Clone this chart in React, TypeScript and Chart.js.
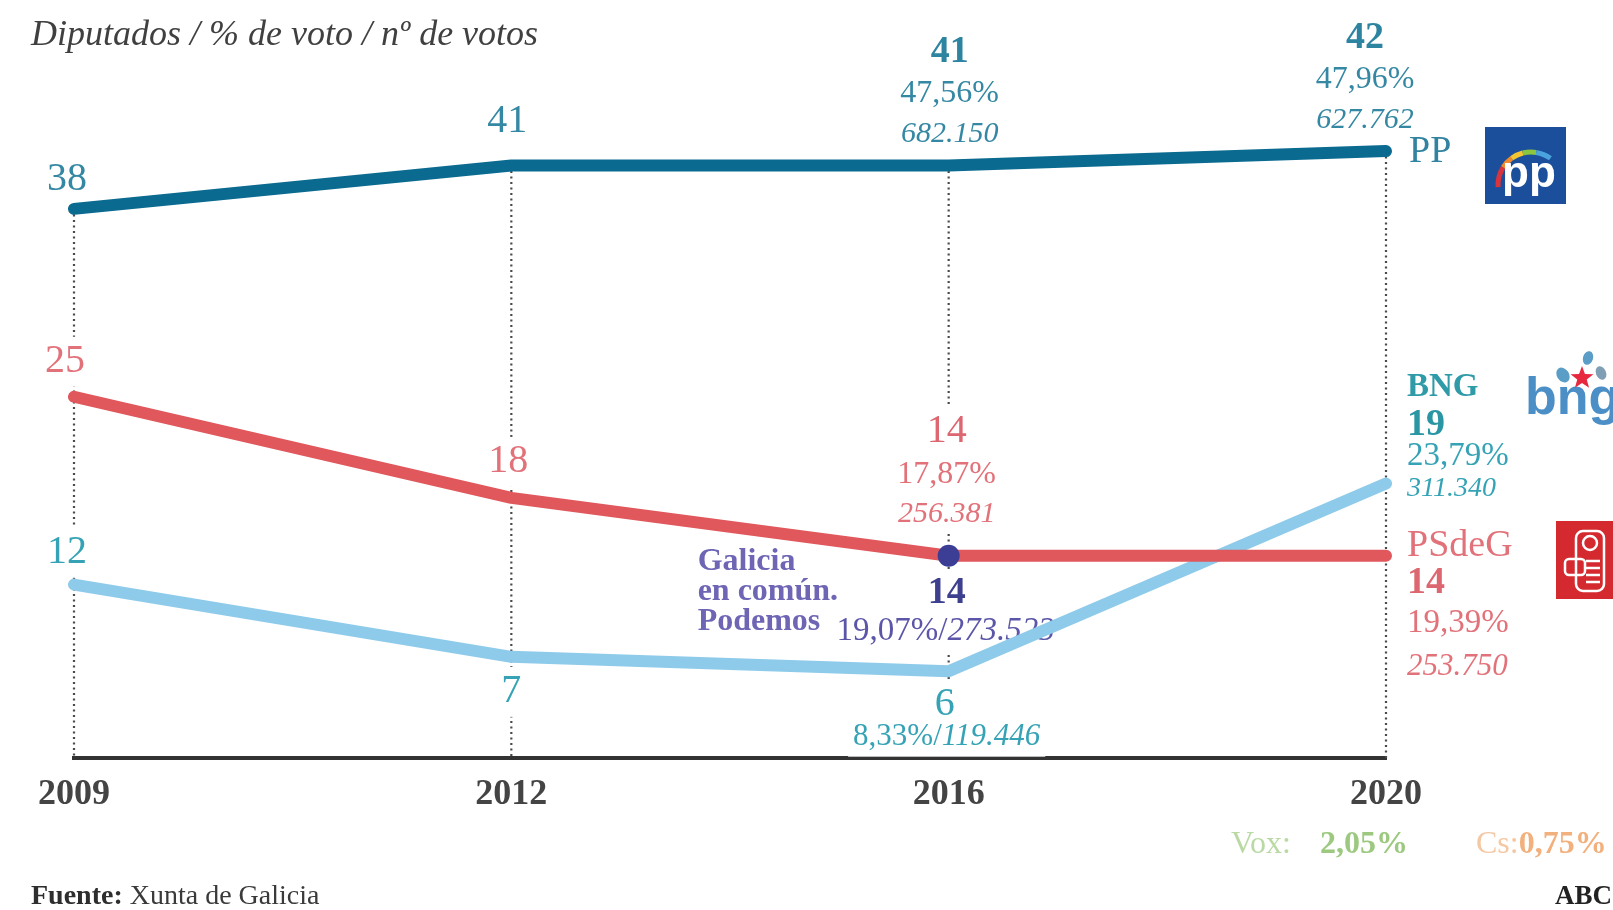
import { useEffect, useRef } from 'react';
import { Chart, registerables } from 'chart.js';

Chart.register(...registerables);

// ---------- data ----------
const years = ['2009', '2012', '2016', '2020'];
const ppSeats = [38, 41, 41, 42];
const psdegSeats = [25, 18, 14, 14];
const bngSeats = [12, 7, 6, 19];
const gecSeats: (number | null)[] = [null, null, 14, null];

const ppPct = ['', '', '47,56%', '47,96%'];
const ppVotes = ['', '', '682.150', '627.762'];
const psdegPct = ['', '', '17,87%', '19,39%'];
const psdegVotes = ['', '', '256.381', '253.750'];
const bngPct = ['', '', '8,33%', '23,79%'];
const bngVotes = ['', '', '119.446', '311.340'];
const gecPct = ['', '', '19,07%', ''];
const gecVotes = ['', '', '273.523', ''];

const partyNames = ['PP', 'PSdeG', 'BNG'];
const gecName = ['Galicia', 'en común.', 'Podemos'];
const otherParties = ['Vox:', 'Cs:'];
const otherPct = ['2,05%', '0,75%'];

const subtitle = 'Diputados / % de voto / nº de votos';
const sourceLabel = 'Fuente:';
const sourceText = ' Xunta de Galicia';
const brand = 'ABC';

// ---------- styles ----------
const SERIF = '"Liberation Serif", serif';
const SANS = '"Liberation Sans", Arial, sans-serif';
const f = (size: number, weight = 'normal', style = 'normal', fam = SERIF) => `${style} ${weight} ${size}px ${fam}`;

const PP_LINE = '#0b6a8f';
const RED_LINE = '#e0575c';
const BNG_LINE = '#8ecbea';
const GEC_DOT = '#3b3e94';
const PP_TXT = '#3588a3';
const RED_TXT = '#e2727a';
const BNG_TXT = '#35a3b5';
const GEC_TXT = '#6e66b5';

type Seg = { t: string; font: string; color: string };

function drawSegs(
  ctx: CanvasRenderingContext2D,
  segs: Seg[],
  x: number,
  y: number,
  align: 'left' | 'center' | 'right',
  size: number,
  bg = false
) {
  let total = 0;
  const widths = segs.map((s) => {
    ctx.font = s.font;
    const w = ctx.measureText(s.t).width;
    total += w;
    return w;
  });
  let sx = align === 'left' ? x : align === 'center' ? x - total / 2 : x - total;
  if (bg) {
    ctx.fillStyle = '#ffffff';
    const h = size * 1.25;
    ctx.fillRect(sx - 5, y - h / 2, total + 10, h);
  }
  ctx.textAlign = 'left';
  ctx.textBaseline = 'middle';
  segs.forEach((s, i) => {
    ctx.font = s.font;
    ctx.fillStyle = s.color;
    ctx.fillText(s.t, sx, y);
    sx += widths[i];
  });
}

function txt(
  ctx: CanvasRenderingContext2D,
  t: string,
  x: number,
  y: number,
  size: number,
  color: string,
  align: 'left' | 'center' | 'right' = 'center',
  weight = 'normal',
  style = 'normal',
  bg = false
) {
  drawSegs(ctx, [{ t, font: f(size, weight, style), color }], x, y, align, size, bg);
}

const annotations = {
  id: 'annotations',
  beforeDatasetsDraw(chart: any) {
    const { ctx, scales, chartArea } = chart;
    const xs = scales.x;
    const ys = scales.y;
    const X = (i: number) => xs.getPixelForValue(i);
    const Y = (v: number) => ys.getPixelForValue(v);
    ctx.save();

    // dotted guide lines from the top series down to the axis
    ctx.strokeStyle = '#4a4a4a';
    ctx.lineWidth = 2.2;
    ctx.setLineDash([2, 3.5]);
    years.forEach((_, i) => {
      const top = Math.max(ppSeats[i], psdegSeats[i], bngSeats[i]);
      ctx.beginPath();
      ctx.moveTo(X(i), Y(top));
      ctx.lineTo(X(i), chartArea.bottom);
      ctx.stroke();
    });
    ctx.setLineDash([]);

    // ---- PP labels ----
    for (let i = 0; i < years.length; i++) {
      const px = X(i);
      const py = Y(ppSeats[i]);
      if (i === 0) txt(ctx, String(ppSeats[i]), px - 7, py - 29, 40, PP_TXT);
      else if (i === 1) txt(ctx, String(ppSeats[i]), px - 4, py - 44, 40, PP_TXT);
      else {
        const dx = i === 2 ? 1 : -21;
        txt(ctx, String(ppSeats[i]), px + dx, py - 113, 38, '#2c84a0', 'center', 'bold', 'normal', true);
        txt(ctx, ppPct[i], px + dx, py - 72, 32, PP_TXT, 'center', 'normal', 'normal', true);
        txt(ctx, ppVotes[i], px + dx, py - 31, 30, PP_TXT, 'center', 'normal', 'italic', true);
      }
    }
    const pp3x = X(3);
    const pp3y = Y(ppSeats[3]);
    txt(ctx, partyNames[0], pp3x + 23, pp3y + 1, 38, '#3183a0', 'left');

    // ---- PSdeG labels ----
    for (let i = 0; i < years.length; i++) {
      const px = X(i);
      const py = Y(psdegSeats[i]);
      if (i === 0) txt(ctx, String(psdegSeats[i]), px - 9, py - 35, 40, RED_TXT, 'center', 'normal', 'normal', true);
      else if (i === 1) txt(ctx, String(psdegSeats[i]), px - 3, py - 36, 40, RED_TXT, 'center', 'normal', 'normal', true);
      else if (i === 2) {
        txt(ctx, String(psdegSeats[i]), px - 2, py - 124, 40, '#dd6770', 'center', 'normal', 'normal', true);
        txt(ctx, psdegPct[i], px - 2, py - 81, 32, RED_TXT, 'center', 'normal', 'normal', true);
        txt(ctx, psdegVotes[i], px - 2, py - 42, 30, RED_TXT, 'center', 'normal', 'italic', true);
      } else {
        const lx = px + 21;
        txt(ctx, partyNames[1], lx, py - 10, 38, RED_TXT, 'left');
        txt(ctx, String(psdegSeats[i]), lx, py + 27, 38, '#dd6770', 'left', 'bold');
        txt(ctx, psdegPct[i], lx, py + 68, 33, RED_TXT, 'left');
        txt(ctx, psdegVotes[i], lx, py + 111, 31, RED_TXT, 'left', 'normal', 'italic');
      }
    }

    // ---- BNG labels ----
    for (let i = 0; i < years.length; i++) {
      const px = X(i);
      const py = Y(bngSeats[i]);
      if (i === 0) txt(ctx, String(bngSeats[i]), px - 7, py - 32, 40, BNG_TXT, 'center', 'normal', 'normal', true);
      else if (i === 1) txt(ctx, String(bngSeats[i]), px, py + 35, 40, BNG_TXT, 'center', 'normal', 'normal', true);
      else if (i === 2) {
        txt(ctx, String(bngSeats[i]), px - 4, py + 33, 40, BNG_TXT, 'center', 'normal', 'normal', true);
        drawSegs(
          ctx,
          [
            { t: bngPct[i] + '/', font: f(31), color: BNG_TXT },
            { t: bngVotes[i], font: f(31, 'normal', 'italic'), color: BNG_TXT },
          ],
          px - 2,
          py + 66,
          'center',
          31,
          true
        );
      } else {
        const lx = px + 21;
        txt(ctx, partyNames[2], lx, py - 96, 33, '#2f9aa8', 'left', 'bold');
        txt(ctx, String(bngSeats[i]), lx, py - 58, 38, '#2a95a3', 'left', 'bold');
        txt(ctx, bngPct[i], lx, py - 27, 33, BNG_TXT, 'left');
        txt(ctx, bngVotes[i], lx, py + 5, 28, BNG_TXT, 'left', 'normal', 'italic');
      }
    }

    // ---- Galicia en común labels ----
    {
      const i = 2;
      const px = X(i);
      const py = Y(gecSeats[i] as number);
      gecName.forEach((n, k) => txt(ctx, n, px - 251, py + 6 + k * 30, 32, GEC_TXT, 'left', 'bold'));
      txt(ctx, String(gecSeats[i]), px - 2, py + 37, 38, '#3d3f8f', 'center', 'bold', 'normal', true);
      drawSegs(
        ctx,
        [
          { t: gecPct[i] + '/', font: f(33), color: '#5b56a8' },
          { t: gecVotes[i], font: f(33, 'normal', 'italic'), color: '#5b56a8' },
        ],
        px - 3,
        py + 76,
        'center',
        33,
        true
      );
    }

    // ---- subtitle, other parties, source ----
    txt(ctx, subtitle, 31, 36, 36, '#404040', 'left', 'normal', 'italic');
    txt(ctx, otherParties[0], 1231, 845, 32, '#bad9a4', 'left');
    txt(ctx, otherPct[0], 1320, 845, 32, '#9cc97f', 'left', 'bold');
    drawSegs(
      ctx,
      [
        { t: otherParties[1], font: f(32), color: '#f5c8a4' },
        { t: otherPct[1], font: f(32, 'bold'), color: '#f2b07d' },
      ],
      1476,
      845,
      'left',
      32
    );
    drawSegs(
      ctx,
      [
        { t: sourceLabel, font: f(28, 'bold'), color: '#2e2e2e' },
        { t: sourceText, font: f(28), color: '#3a3a3a' },
      ],
      31,
      897,
      'left',
      28
    );
    txt(ctx, brand, 1612, 897, 27, '#222', 'right', 'bold');

    ctx.restore();
  },
  afterDatasetsDraw(chart: any) {
    const { ctx, chartArea } = chart;
    const R = chartArea.right;
    ctx.save();

    // PP logo
    const lx = R + 99;
    const ly = 127;
    ctx.fillStyle = '#1b4f9b';
    ctx.fillRect(lx, ly, 81, 77);
    const arcs: [string, number, number][] = [
      ['#d8343c', 0.98, 1.18],
      ['#f08a2c', 1.18, 1.3],
      ['#f4c531', 1.3, 1.42],
      ['#8cc63f', 1.42, 1.55],
      ['#4aa3dc', 1.55, 1.7],
    ];
    ctx.lineWidth = 5;
    arcs.forEach(([c, a0, a1]) => {
      ctx.strokeStyle = c;
      ctx.beginPath();
      ctx.arc(lx + 46, ly + 58, 33, Math.PI * a0, Math.PI * a1);
      ctx.stroke();
    });
    ctx.fillStyle = '#ffffff';
    ctx.font = f(44, 'bold', 'normal', SANS);
    ctx.textAlign = 'center';
    ctx.textBaseline = 'alphabetic';
    ctx.fillText('pp', lx + 44, ly + 60);

    // bng logo
    ctx.fillStyle = '#4b8fc6';
    ctx.font = f(52, 'bold', 'normal', SANS);
    ctx.textAlign = 'left';
    ctx.fillText('bng', R + 139, 414);
    const sx = R + 196;
    const sy = 378;
    ctx.fillStyle = '#e8283f';
    ctx.beginPath();
    for (let k = 0; k < 10; k++) {
      const r = k % 2 === 0 ? 12 : 5;
      const a = -Math.PI / 2 + (k * Math.PI) / 5;
      const px = sx + r * Math.cos(a);
      const py = sy + r * Math.sin(a);
      if (k === 0) ctx.moveTo(px, py);
      else ctx.lineTo(px, py);
    }
    ctx.closePath();
    ctx.fill();
    ctx.fillStyle = '#5a9dc6';
    ctx.beginPath();
    ctx.ellipse(sx - 19, sy - 3, 6, 8, -0.6, 0, Math.PI * 2);
    ctx.fill();
    ctx.beginPath();
    ctx.ellipse(sx + 6, sy - 20, 5, 7, 0.3, 0, Math.PI * 2);
    ctx.fill();
    ctx.fillStyle = '#7f9fb5';
    ctx.beginPath();
    ctx.ellipse(sx + 19, sy - 5, 5, 7, -0.4, 0, Math.PI * 2);
    ctx.fill();

    // PSdeG logo
    const rx = R + 170;
    const ry = 521;
    ctx.fillStyle = '#d42a2f';
    ctx.fillRect(rx, ry, 80, 78);
    ctx.strokeStyle = '#ffffff';
    ctx.lineWidth = 2.5;
    ctx.beginPath();
    ctx.roundRect(rx + 20, ry + 10, 28, 60, 7);
    ctx.stroke();
    ctx.beginPath();
    ctx.roundRect(rx + 9, ry + 38, 20, 16, 4);
    ctx.stroke();
    for (let k = 0; k < 4; k++) {
      ctx.beginPath();
      ctx.moveTo(rx + 30, ry + 40 + k * 7);
      ctx.lineTo(rx + 44, ry + 40 + k * 7);
      ctx.stroke();
    }
    ctx.beginPath();
    ctx.arc(rx + 34, ry + 22, 7, 0, Math.PI * 2);
    ctx.stroke();

    ctx.restore();
  },
};

export default function App() {
  const ref = useRef<HTMLCanvasElement>(null);
  useEffect(() => {
    const lineCommon = {
      borderWidth: 12,
      pointRadius: 0,
      pointHoverRadius: 0,
      borderCapStyle: 'round' as const,
      borderJoinStyle: 'round' as const,
      tension: 0,
      fill: false,
    };
    const chart = new Chart(ref.current!, {
      type: 'line',
      data: {
        labels: years,
        datasets: [
          {
            label: 'Galicia en común',
            data: gecSeats,
            showLine: false,
            pointRadius: 11,
            pointBackgroundColor: GEC_DOT,
            pointBorderWidth: 0,
            borderColor: GEC_DOT,
          },
          { label: 'PP', data: ppSeats, borderColor: PP_LINE, ...lineCommon },
          { label: 'PSdeG', data: psdegSeats, borderColor: RED_LINE, ...lineCommon },
          { label: 'BNG', data: bngSeats, borderColor: BNG_LINE, ...lineCommon },
        ],
      },
      options: {
        responsive: false,
        animation: false,
        events: [],
        layout: { padding: { left: 74, right: 227, top: 35.5, bottom: 32 } },
        plugins: { legend: { display: false }, tooltip: { enabled: false } },
        scales: {
          x: {
            offset: false,
            grid: { display: false, drawTicks: false },
            border: { display: true, color: '#333333', width: 4 },
            ticks: {
              font: { family: 'Liberation Serif', size: 36, weight: 'bold' },
              color: '#444444',
              padding: 15,
            },
            afterFit: (s: any) => {
              s.height = 120;
            },
          },
          y: { display: false, min: 0, max: 50 },
        },
      },
      plugins: [annotations],
    });
    return () => chart.destroy();
  }, []);
  return (
    <div style={{ position: 'absolute', left: 0, top: 0, width: 1613, height: 910, background: '#ffffff', overflow: 'hidden' }}>
      <canvas ref={ref} width={1613} height={910} style={{ width: 1613, height: 910, display: 'block' }} />
    </div>
  );
}
